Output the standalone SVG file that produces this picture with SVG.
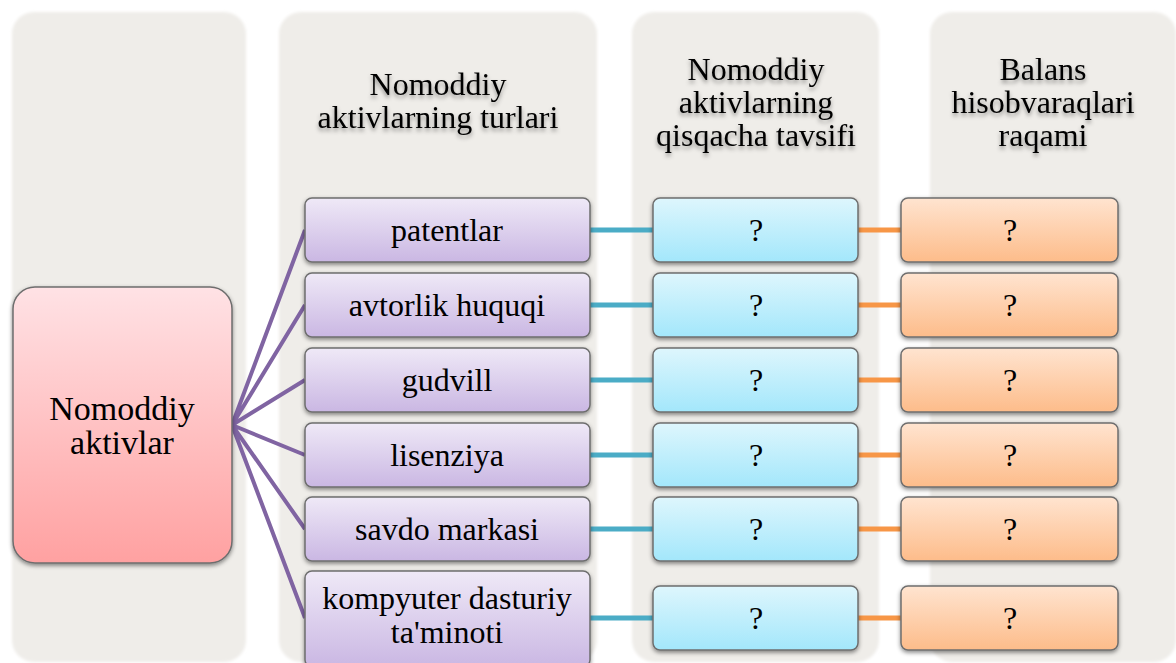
<svg xmlns="http://www.w3.org/2000/svg" width="1176" height="663" viewBox="0 0 1176 663">
<defs>
<linearGradient id="gPink" x1="0" y1="0" x2="0" y2="1"><stop offset="0" stop-color="#FFE2E5"/><stop offset="1" stop-color="#FFA1A1"/></linearGradient>
<linearGradient id="gPurple" x1="0" y1="0" x2="0" y2="1"><stop offset="0" stop-color="#EFE9F7"/><stop offset="1" stop-color="#CAB7E3"/></linearGradient>
<linearGradient id="gBlue" x1="0" y1="0" x2="0" y2="1"><stop offset="0" stop-color="#DEF6FD"/><stop offset="1" stop-color="#A3E7FB"/></linearGradient>
<linearGradient id="gOrange" x1="0" y1="0" x2="0" y2="1"><stop offset="0" stop-color="#FFE4D0"/><stop offset="1" stop-color="#FDBC8A"/></linearGradient>
<filter id="soft" x="-5%" y="-5%" width="110%" height="110%"><feGaussianBlur stdDeviation="1.5"/></filter>
<filter id="shadow" x="-10%" y="-10%" width="120%" height="130%"><feDropShadow dx="0" dy="2" stdDeviation="2" flood-color="#000" flood-opacity="0.45"/></filter>
<filter id="tshadow" x="-10%" y="-20%" width="120%" height="150%"><feDropShadow dx="0" dy="3" stdDeviation="2" flood-color="#000" flood-opacity="0.4"/></filter>
</defs>
<style>
.panel{fill:#EFEDE9;filter:url(#soft)}
.box{stroke:#6E6E6E;stroke-width:1.5;filter:url(#shadow)}
.h{filter:url(#tshadow)}
.c1{stroke:#8064A2;stroke-width:4;fill:none}
.c2{stroke:#4BACC6;stroke-width:5}
.c3{stroke:#F79646;stroke-width:5}
</style>
<rect width="1176" height="663" fill="#FFFFFF"/>
<g id="panels">
<rect class="panel" x="12" y="12" width="234" height="650" rx="22"/>
<rect class="panel" x="279" y="12" width="318" height="650" rx="22"/>
<rect class="panel" x="632" y="12" width="247" height="650" rx="22"/>
<rect class="panel" x="930" y="12" width="246" height="650" rx="22"/>
</g>
<g id="headers" text-anchor="middle" font-size="32" fill="#000">
<text class="h" style="font-family:'Liberation Serif'" x="438" y="95">Nomoddiy</text>
<text class="h" style="font-family:'Liberation Serif'" x="438" y="128">aktivlarning turlari</text>
<text class="h" style="font-family:'Liberation Serif'" x="756" y="80">Nomoddiy</text>
<text class="h" style="font-family:'Liberation Serif'" x="756" y="113">aktivlarning</text>
<text class="h" style="font-family:'Liberation Serif'" x="756" y="146">qisqacha tavsifi</text>
<text class="h" style="font-family:'Liberation Serif'" x="1043" y="80">Balans</text>
<text class="h" style="font-family:'Liberation Serif'" x="1043" y="113">hisobvaraqlari</text>
<text class="h" style="font-family:'Liberation Serif'" x="1043" y="146">raqami</text>
</g>
<g id="connectors">
<path class="c1" d="M232 425 L305 230 M232 425 L305 305 M232 425 L305 380 M232 425 L305 455 M232 425 L305 529 M232 425 L305 618"/>
<path class="c2" d="M590 230 H653 M590 305 H653 M590 380 H653 M590 455 H653 M590 529 H653 M590 618 H653"/>
<path class="c3" d="M858 230 H901 M858 305 H901 M858 380 H901 M858 455 H901 M858 529 H901 M858 618 H901"/>
</g>
<g id="main" text-anchor="middle" font-size="34" fill="#000">
<rect class="box" x="13" y="287" width="219" height="276" rx="22" fill="url(#gPink)"/>
<text style="font-family:'Liberation Serif'" x="122" y="420">Nomoddiy</text>
<text style="font-family:'Liberation Serif'" x="122" y="454">aktivlar</text>
</g>
<g id="types" text-anchor="middle" font-size="32" fill="#000">
<g id="type1"><rect class="box" x="305" y="198" width="285" height="64" rx="7" fill="url(#gPurple)"/><text style="font-family:'Liberation Serif'" x="447" y="241">patentlar</text></g>
<g id="type2"><rect class="box" x="305" y="273" width="285" height="64" rx="7" fill="url(#gPurple)"/><text style="font-family:'Liberation Serif'" x="447" y="316">avtorlik huquqi</text></g>
<g id="type3"><rect class="box" x="305" y="348" width="285" height="64" rx="7" fill="url(#gPurple)"/><text style="font-family:'Liberation Serif'" x="447" y="391">gudvill</text></g>
<g id="type4"><rect class="box" x="305" y="423" width="285" height="64" rx="7" fill="url(#gPurple)"/><text style="font-family:'Liberation Serif'" x="447" y="466">lisenziya</text></g>
<g id="type5"><rect class="box" x="305" y="497" width="285" height="64" rx="7" fill="url(#gPurple)"/><text style="font-family:'Liberation Serif'" x="447" y="540">savdo markasi</text></g>
<g id="type6"><rect class="box" x="305" y="571" width="285" height="96" rx="7" fill="url(#gPurple)"/><text style="font-family:'Liberation Serif'" x="447" y="609">kompyuter dasturiy</text><text style="font-family:'Liberation Serif'" x="447" y="643">ta'minoti</text></g>
</g>
<g id="descs" text-anchor="middle" font-size="32" fill="#000">
<g id="desc1"><rect class="box" x="653" y="198" width="205" height="64" rx="7" fill="url(#gBlue)"/><text style="font-family:'Liberation Serif'" x="756" y="241">?</text></g>
<g id="desc2"><rect class="box" x="653" y="273" width="205" height="64" rx="7" fill="url(#gBlue)"/><text style="font-family:'Liberation Serif'" x="756" y="316">?</text></g>
<g id="desc3"><rect class="box" x="653" y="348" width="205" height="64" rx="7" fill="url(#gBlue)"/><text style="font-family:'Liberation Serif'" x="756" y="391">?</text></g>
<g id="desc4"><rect class="box" x="653" y="423" width="205" height="64" rx="7" fill="url(#gBlue)"/><text style="font-family:'Liberation Serif'" x="756" y="466">?</text></g>
<g id="desc5"><rect class="box" x="653" y="497" width="205" height="64" rx="7" fill="url(#gBlue)"/><text style="font-family:'Liberation Serif'" x="756" y="540">?</text></g>
<g id="desc6"><rect class="box" x="653" y="586" width="205" height="64" rx="7" fill="url(#gBlue)"/><text style="font-family:'Liberation Serif'" x="756" y="629">?</text></g>
</g>
<g id="accs" text-anchor="middle" font-size="32" fill="#000">
<g id="acc1"><rect class="box" x="901" y="198" width="217" height="64" rx="7" fill="url(#gOrange)"/><text style="font-family:'Liberation Serif'" x="1010" y="241">?</text></g>
<g id="acc2"><rect class="box" x="901" y="273" width="217" height="64" rx="7" fill="url(#gOrange)"/><text style="font-family:'Liberation Serif'" x="1010" y="316">?</text></g>
<g id="acc3"><rect class="box" x="901" y="348" width="217" height="64" rx="7" fill="url(#gOrange)"/><text style="font-family:'Liberation Serif'" x="1010" y="391">?</text></g>
<g id="acc4"><rect class="box" x="901" y="423" width="217" height="64" rx="7" fill="url(#gOrange)"/><text style="font-family:'Liberation Serif'" x="1010" y="466">?</text></g>
<g id="acc5"><rect class="box" x="901" y="497" width="217" height="64" rx="7" fill="url(#gOrange)"/><text style="font-family:'Liberation Serif'" x="1010" y="540">?</text></g>
<g id="acc6"><rect class="box" x="901" y="586" width="217" height="64" rx="7" fill="url(#gOrange)"/><text style="font-family:'Liberation Serif'" x="1010" y="629">?</text></g>
</g>
</svg>
